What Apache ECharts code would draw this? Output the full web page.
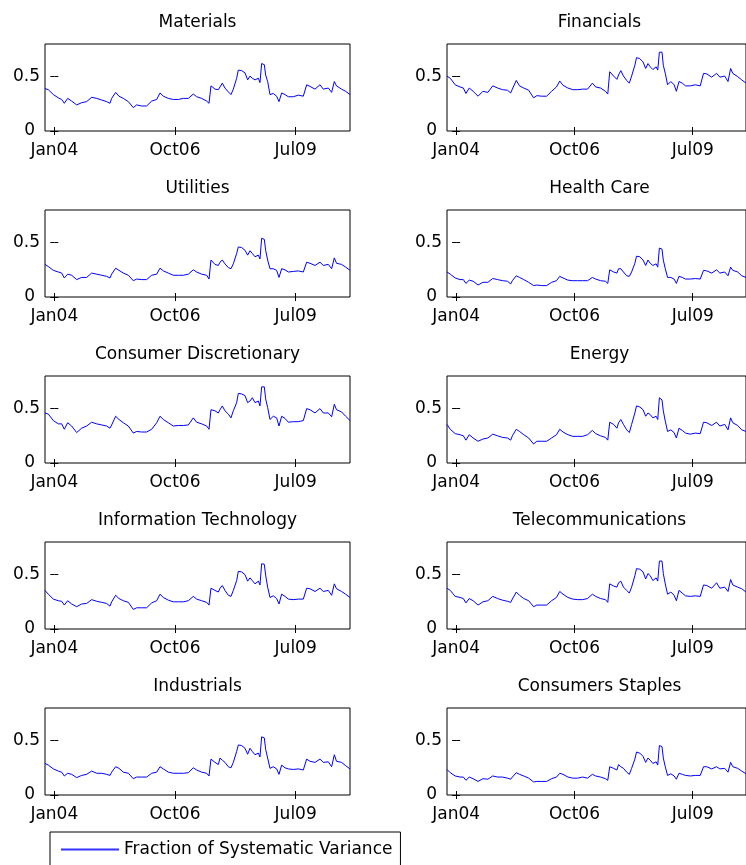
<!DOCTYPE html>
<html><head><meta charset="utf-8">
<script src="https://cdn.jsdelivr.net/npm/echarts@6/dist/echarts.min.js"></script>
<style>html,body{margin:0;padding:0;background:#fff}#c{width:746px;height:865px}</style>
</head><body><div id="c"></div>
<script>
// x positions in months since Jan 2004
const months = [-2.55,-1.64,-0.27,1.09,2.01,2.73,3.65,4.74,6.11,7.47,
8.84,10.21,11.58,12.94,14.31,15.22,15.68,16.77,17.68,18.87,
20.24,21.60,22.52,23.88,25.25,26.62,27.99,28.90,29.81,31.18,
32.54,33.91,35.28,36.65,38.01,38.92,40.29,41.66,42.30,42.84,
43.94,44.85,45.31,45.94,46.67,47.58,48.31,48.95,49.86,50.32,
51.23,52.14,52.87,53.51,54.15,54.88,55.79,56.24,56.70,57.43,
57.79,58.34,58.98,59.89,60.80,61.44,62.17,63.08,63.99,65.36,
66.73,68.09,69.01,69.92,71.29,72.65,73.56,74.93,75.84,76.57,
77.17,78.54,79.67,80.86];

const sectorNames = ['Materials','Financials','Utilities','Health Care','Consumer Discretionary','Energy','Information Technology','Telecommunications','Industrials','Consumers Staples'];
const legendName = 'Fraction of Systematic Variance';
const tickMonths = [0, 33, 66];
const tickLabels = ['Jan04', 'Oct06', 'Jul09'];
const yTicks = [0, 0.5];

const materials = [0.39,0.38,0.335,0.305,0.29,0.255,0.30,0.275,0.24,0.26,
0.27,0.31,0.30,0.285,0.27,0.255,0.30,0.355,0.32,0.30,
0.27,0.215,0.24,0.23,0.23,0.275,0.29,0.35,0.32,0.30,
0.29,0.29,0.30,0.30,0.34,0.315,0.30,0.275,0.255,0.415,
0.385,0.38,0.405,0.44,0.395,0.36,0.335,0.385,0.485,0.56,
0.555,0.535,0.47,0.505,0.485,0.47,0.485,0.445,0.62,0.61,
0.515,0.455,0.335,0.345,0.32,0.27,0.35,0.335,0.315,0.315,
0.33,0.32,0.425,0.41,0.385,0.425,0.385,0.395,0.355,0.455,
0.415,0.385,0.365,0.335];
const financials = [0.505,0.485,0.425,0.405,0.395,0.345,0.395,0.365,0.32,0.365,
0.355,0.415,0.395,0.38,0.375,0.35,0.385,0.465,0.415,0.395,
0.375,0.305,0.325,0.32,0.32,0.365,0.405,0.46,0.42,0.395,
0.38,0.38,0.385,0.385,0.44,0.405,0.395,0.365,0.34,0.545,
0.505,0.475,0.515,0.555,0.505,0.465,0.44,0.505,0.605,0.675,
0.665,0.635,0.575,0.62,0.59,0.565,0.59,0.56,0.725,0.725,
0.605,0.53,0.425,0.455,0.425,0.365,0.455,0.44,0.415,0.415,
0.425,0.415,0.53,0.525,0.495,0.53,0.495,0.505,0.455,0.575,
0.53,0.50,0.47,0.44];
const utilities = [0.30,0.28,0.245,0.23,0.22,0.175,0.21,0.20,0.16,0.18,
0.18,0.22,0.21,0.20,0.19,0.175,0.21,0.265,0.245,0.22,
0.20,0.15,0.165,0.16,0.16,0.20,0.21,0.265,0.24,0.22,
0.20,0.20,0.20,0.21,0.25,0.23,0.21,0.20,0.165,0.34,
0.30,0.29,0.32,0.34,0.305,0.27,0.26,0.305,0.40,0.46,
0.455,0.43,0.385,0.425,0.40,0.37,0.385,0.35,0.54,0.53,
0.43,0.34,0.26,0.26,0.245,0.18,0.26,0.25,0.23,0.235,
0.24,0.23,0.32,0.31,0.29,0.32,0.29,0.30,0.26,0.36,
0.31,0.30,0.275,0.245];
const healthCare = [0.23,0.21,0.175,0.16,0.16,0.125,0.155,0.145,0.11,0.135,
0.135,0.17,0.16,0.15,0.145,0.12,0.15,0.195,0.18,0.16,
0.135,0.105,0.11,0.105,0.105,0.135,0.15,0.19,0.175,0.155,
0.15,0.15,0.15,0.15,0.18,0.165,0.15,0.145,0.125,0.25,
0.23,0.22,0.26,0.26,0.23,0.195,0.19,0.23,0.31,0.375,
0.37,0.34,0.29,0.34,0.31,0.29,0.305,0.275,0.45,0.44,
0.34,0.26,0.18,0.18,0.165,0.125,0.19,0.18,0.165,0.165,
0.17,0.165,0.245,0.24,0.22,0.25,0.22,0.23,0.195,0.275,
0.245,0.23,0.195,0.18];
const consumerDiscretionary = [0.46,0.45,0.39,0.36,0.36,0.31,0.37,0.34,0.28,0.32,
0.34,0.375,0.36,0.35,0.34,0.32,0.35,0.43,0.40,0.37,
0.34,0.275,0.29,0.285,0.285,0.31,0.37,0.43,0.40,0.37,
0.34,0.345,0.345,0.35,0.415,0.375,0.36,0.34,0.31,0.49,
0.48,0.46,0.49,0.525,0.48,0.45,0.415,0.48,0.555,0.64,
0.635,0.62,0.555,0.57,0.60,0.555,0.57,0.525,0.70,0.70,
0.59,0.51,0.40,0.43,0.415,0.34,0.43,0.41,0.375,0.38,
0.38,0.39,0.50,0.49,0.46,0.50,0.46,0.46,0.425,0.54,
0.49,0.47,0.43,0.39];
const energy = [0.355,0.31,0.27,0.26,0.25,0.21,0.26,0.23,0.20,0.22,
0.23,0.265,0.25,0.235,0.23,0.21,0.25,0.31,0.29,0.26,
0.23,0.175,0.20,0.20,0.20,0.23,0.26,0.31,0.285,0.26,
0.245,0.245,0.245,0.26,0.30,0.27,0.25,0.235,0.21,0.375,
0.355,0.32,0.37,0.40,0.355,0.305,0.28,0.355,0.46,0.525,
0.515,0.49,0.43,0.46,0.445,0.415,0.43,0.40,0.60,0.58,
0.48,0.385,0.29,0.305,0.28,0.23,0.32,0.30,0.275,0.265,
0.275,0.27,0.375,0.37,0.345,0.375,0.34,0.355,0.305,0.415,
0.37,0.345,0.305,0.29];
const infoTech = [0.355,0.32,0.275,0.26,0.255,0.22,0.26,0.23,0.205,0.23,
0.235,0.27,0.255,0.245,0.235,0.21,0.25,0.31,0.28,0.26,
0.245,0.18,0.195,0.195,0.195,0.24,0.26,0.32,0.29,0.265,
0.25,0.25,0.25,0.26,0.30,0.275,0.26,0.245,0.22,0.375,
0.355,0.34,0.375,0.40,0.355,0.31,0.30,0.355,0.445,0.53,
0.525,0.50,0.44,0.47,0.445,0.415,0.44,0.405,0.60,0.595,
0.495,0.385,0.29,0.305,0.28,0.23,0.32,0.30,0.275,0.27,
0.275,0.275,0.375,0.37,0.345,0.375,0.345,0.355,0.31,0.415,
0.37,0.345,0.32,0.29];
const telecom = [0.375,0.355,0.30,0.29,0.28,0.24,0.28,0.26,0.22,0.25,
0.26,0.30,0.28,0.265,0.255,0.245,0.275,0.34,0.31,0.28,
0.26,0.205,0.22,0.22,0.22,0.26,0.29,0.345,0.32,0.29,
0.275,0.27,0.27,0.28,0.32,0.30,0.28,0.27,0.245,0.415,
0.395,0.385,0.425,0.44,0.385,0.355,0.33,0.385,0.49,0.555,
0.55,0.525,0.46,0.51,0.49,0.445,0.47,0.44,0.625,0.625,
0.51,0.415,0.32,0.34,0.31,0.26,0.355,0.33,0.305,0.30,
0.305,0.30,0.405,0.40,0.375,0.425,0.375,0.385,0.345,0.455,
0.405,0.385,0.37,0.34];
const industrials = [0.29,0.275,0.24,0.22,0.21,0.175,0.20,0.19,0.16,0.18,
0.19,0.22,0.20,0.20,0.19,0.18,0.21,0.26,0.245,0.21,
0.20,0.15,0.165,0.165,0.165,0.20,0.21,0.26,0.24,0.21,
0.20,0.20,0.20,0.205,0.25,0.23,0.21,0.20,0.175,0.33,
0.30,0.28,0.34,0.32,0.30,0.26,0.25,0.30,0.40,0.46,
0.455,0.43,0.375,0.43,0.40,0.37,0.385,0.35,0.535,0.525,
0.42,0.34,0.245,0.26,0.24,0.19,0.275,0.25,0.24,0.235,
0.24,0.23,0.33,0.31,0.30,0.33,0.30,0.305,0.26,0.37,
0.31,0.30,0.27,0.24];
const consumerStaples = [0.235,0.205,0.175,0.165,0.165,0.135,0.165,0.15,0.125,0.15,
0.145,0.175,0.165,0.165,0.155,0.145,0.165,0.205,0.19,0.175,
0.155,0.12,0.125,0.125,0.125,0.15,0.165,0.20,0.19,0.165,
0.155,0.155,0.165,0.155,0.19,0.175,0.165,0.15,0.135,0.26,
0.245,0.23,0.28,0.26,0.245,0.21,0.19,0.245,0.33,0.395,
0.385,0.355,0.30,0.34,0.32,0.29,0.305,0.275,0.455,0.445,
0.34,0.26,0.18,0.195,0.175,0.145,0.20,0.19,0.18,0.175,
0.18,0.18,0.26,0.26,0.24,0.26,0.24,0.245,0.21,0.30,
0.26,0.245,0.22,0.195];

const seriesValues = [materials, financials, utilities, healthCare, consumerDiscretionary, energy, infoTech, telecom, industrials, consumerStaples];

const FONT = 'DejaVu Sans';
const FS = 17;
const BLUE = '#0000ff';
const chart = echarts.init(document.getElementById('c'), null, {renderer: 'canvas'});
const grids = [], xAxes = [], yAxes = [], series = [], titles = [];
const tickStyle = {inside: true, length: 4, lineStyle: {color: '#000', width: 1}};

sectorNames.forEach((name, i) => {
  const col = i % 2, row = Math.floor(i / 2);
  const left = col === 0 ? 45 : 447;
  const top = 44 + 166 * row;
  const w = 305, h = 87;
  grids.push({left: left, top: top, width: w, height: h, show: true, borderColor: '#000', borderWidth: 1, backgroundColor: '#fff'});
  titles.push({text: name, left: left + w / 2, top: top - 30, textAlign: 'center', padding: 0,
    textStyle: {fontFamily: FONT, fontSize: FS, fontWeight: 'normal', color: '#000'}});
  const xBase = {type: 'value', gridIndex: i, min: -2.55, max: 80.86,
    axisLine: {show: false}, splitLine: {show: false}};
  xAxes.push(Object.assign({}, xBase, {position: 'bottom',
    axisTick: Object.assign({customValues: tickMonths}, tickStyle),
    axisLabel: {customValues: tickMonths, formatter: v => tickLabels[tickMonths.indexOf(v)] || '',
      margin: 11, fontFamily: FONT, fontSize: FS, color: '#000'}}));
  xAxes.push(Object.assign({}, xBase, {position: 'top',
    axisTick: Object.assign({customValues: tickMonths}, tickStyle),
    axisLabel: {show: false}}));
  const yBase = {type: 'value', gridIndex: i, min: 0, max: 0.8,
    axisLine: {show: false}, splitLine: {show: false}};
  yAxes.push(Object.assign({}, yBase, {position: 'left',
    axisTick: Object.assign({customValues: yTicks}, tickStyle),
    axisLabel: {customValues: yTicks, margin: 5, fontFamily: FONT, fontSize: FS, color: '#000',
      formatter: v => v === 0 ? '{z|0}' : String(v),
      rich: {z: {fontFamily: FONT, fontSize: FS, color: '#000', padding: [0, 5, 0, 0]}}}}));
  yAxes.push(Object.assign({}, yBase, {position: 'right',
    axisTick: Object.assign({customValues: yTicks}, tickStyle),
    axisLabel: {show: false}}));
  series.push({type: 'line', name: legendName, xAxisIndex: 2 * i, yAxisIndex: 2 * i,
    data: months.map((m, k) => [m, seriesValues[i][k]]),
    symbol: 'none', showSymbol: false, color: BLUE,
    lineStyle: {color: BLUE, width: 1}, itemStyle: {color: BLUE}});
});

chart.setOption({
  animation: false,
  backgroundColor: '#fff',
  title: titles,
  grid: grids,
  xAxis: xAxes,
  yAxis: yAxes,
  legend: {data: [legendName],
    left: 50, top: 832, icon: 'none', itemWidth: 0, itemHeight: 14,
    formatter: n => '{l| }{t|' + n + '}',
    borderColor: '#000', borderWidth: 1, backgroundColor: '#fff', padding: [9, 8, 12, 6],
    textStyle: {fontFamily: FONT, fontSize: FS, color: '#000',
      rich: {
        l: {width: 58, height: 2, backgroundColor: '#3333ff', verticalAlign: 'middle', fontSize: 1, lineHeight: 2},
        t: {fontFamily: FONT, fontSize: FS, color: '#000', padding: [0, 0, 0, 5], verticalAlign: 'middle'}
      }}},
  series: series
});
</script>
</body></html>
